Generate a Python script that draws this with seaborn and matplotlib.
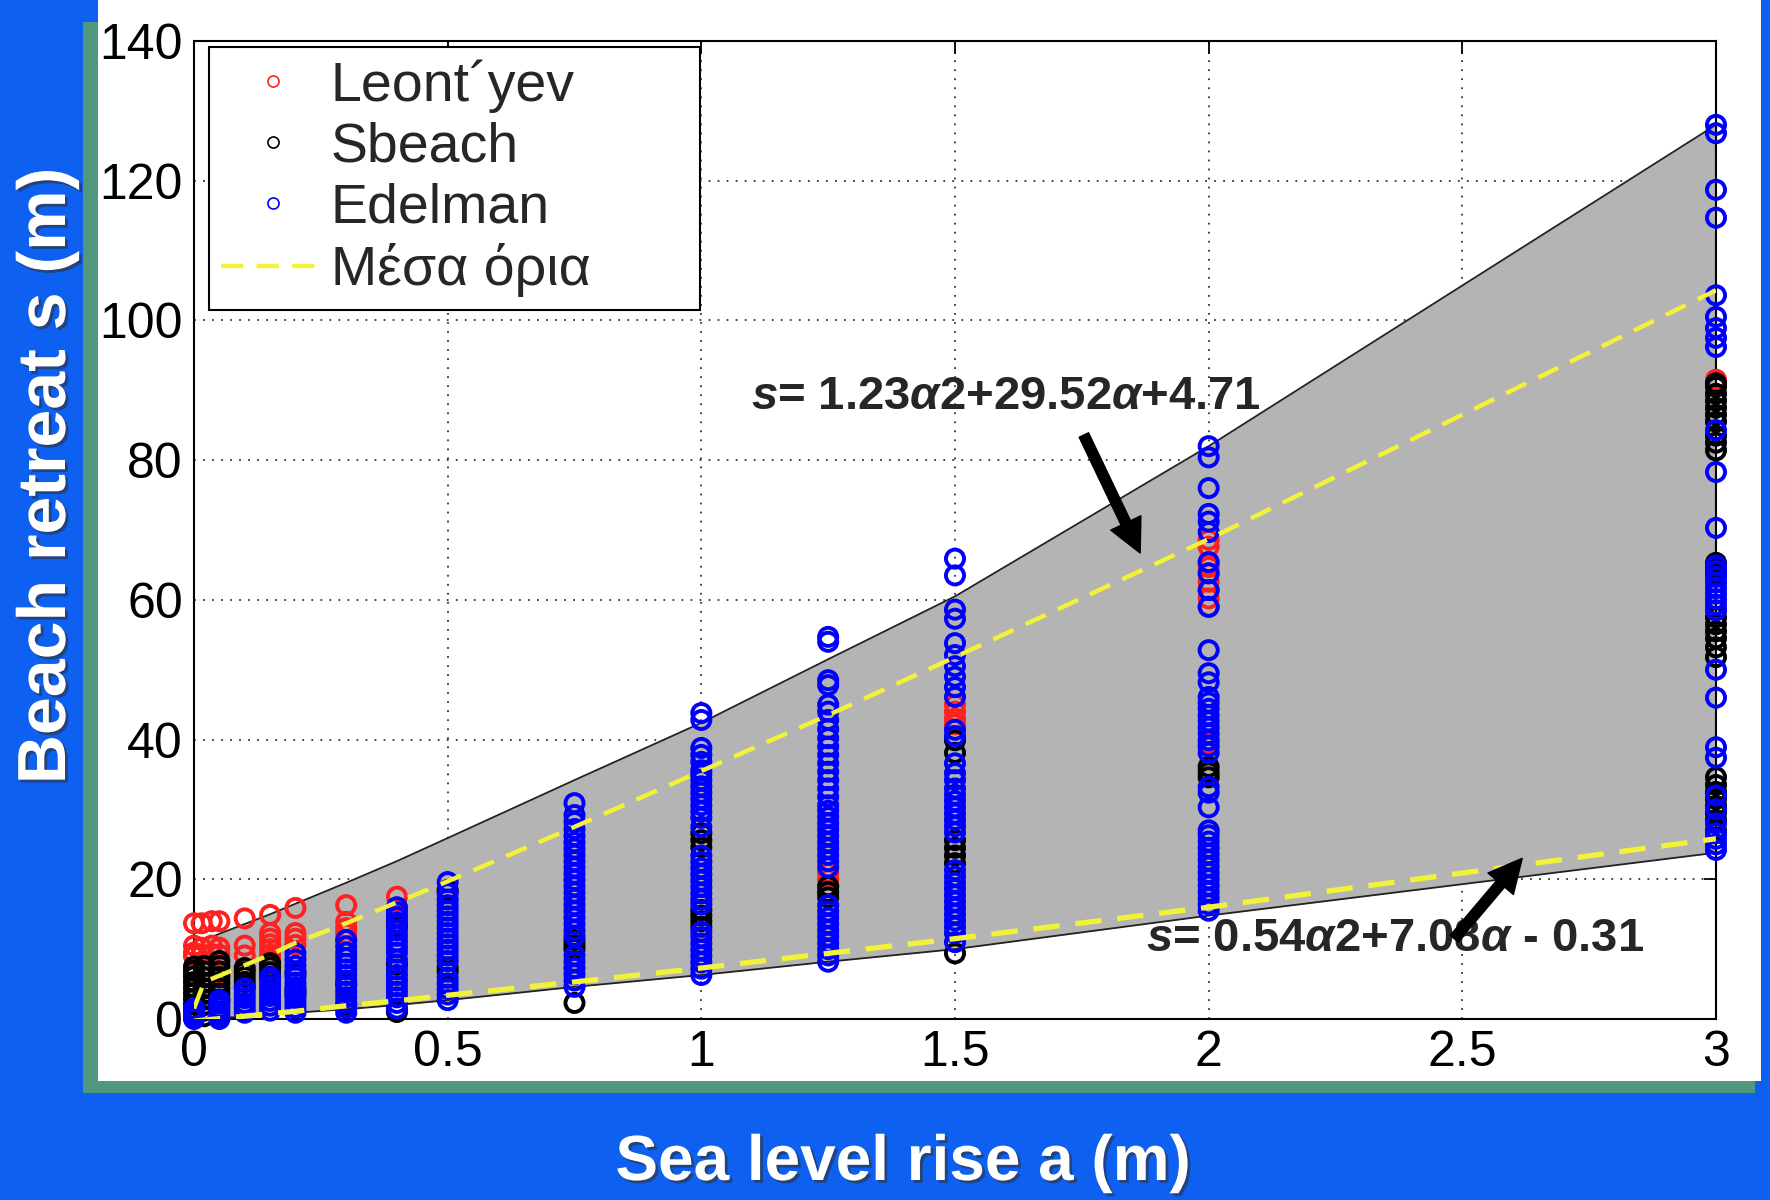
import matplotlib
matplotlib.use("Agg")
import matplotlib.pyplot as plt
import matplotlib.patches as mpatches
import matplotlib.patheffects as pe
from matplotlib.lines import Line2D
import seaborn as sns

# ---------------- data ----------------
leont_x = [0, 0.015, 0.035, 0.05, 0.1, 0.15, 0.2, 0.3, 0.4, 0.5, 1.25, 1.5, 2, 3]
leont_y = [
    [13.7, 10.5, 9.5, 9.0, 6.3],
    [13.7, 10.2, 9.2],
    [14.0, 10.5, 9.3],
    [14.0, 10.2, 9.2, 6.5],
    [14.4, 10.5, 9.1],
    [14.9, 12.3, 11.5, 10.7, 10.0, 9.2, 8.5],
    [15.9, 12.3, 11.5, 10.6],
    [16.3, 13.9, 13.0, 12.2, 11.3],
    [17.5, 15.9, 15.0, 14.2],
    [18.5],
    [20.9, 20.0, 19.0, 18.0],
    [45.0, 44.0, 43.0, 42.2],
    [68.6, 67.6, 65.4, 64.7, 63.8, 62.6, 61.4, 60.2, 59.0, 39.5],
    [91.5, 58.5],
]

sbeach_x = [0, 0.02, 0.05, 0.1, 0.15, 0.2, 0.3, 0.4, 0.5, 0.75, 1, 1.25, 1.5, 2, 3]
sbeach_y = [
    [0.5, 1.3, 2.1, 2.9, 3.7, 4.5, 5.3, 6.1, 6.9, 7.5],
    [0.4, 1.2, 2.0, 2.8, 3.6, 4.4, 5.2, 6.0, 6.8, 7.6],
    [2.8, 3.6, 4.4, 5.2, 6.0, 6.8, 7.6, 8.3],
    [4.6, 5.3, 6.0, 6.7, 7.3],
    [6.0, 6.7, 7.4, 8.0],
    [3.5, 4.2, 6.5],
    [2.0, 5.0],
    [1.0, 1.4, 7.8, 13.3],
    [6.8, 7.4, 18.4],
    [2.3, 10.0, 10.6, 11.3],
    [13.2, 14.0, 14.8, 15.6, 24.6, 25.6, 26.6],
    [17.4, 18.2, 19.0],
    [9.4, 22.3, 23.4, 24.5, 25.6, 38.1, 39.9],
    [34.6, 35.3, 36.1],
    [27.0, 28.5, 29.5, 30.5, 31.5, 32.5, 33.5, 34.6, 51.8, 53.2, 54.5, 55.5,
     56.5, 57.5, 63.7, 64.5, 65.3, 81.4, 82.5, 83.5, 85.5, 86.5, 87.5, 88.5,
     89.5, 90.5, 91.0],
]

edelman_x = [0, 0.05, 0.1, 0.15, 0.2, 0.3, 0.4, 0.5, 0.75, 1, 1.25, 1.5, 2, 3]
edelman_y = [
    [0.0, 0.5, 1.0, 1.5],
    [0.0, 0.5, 1.0, 1.6, 2.2, 2.7],
    [0.9, 1.6, 2.3, 3.0, 3.7, 4.4],
    [1.2, 1.9, 2.6, 3.3, 4.0, 4.7, 5.4, 6.0],
    [0.9, 1.6, 2.3, 3.0, 3.8, 4.5, 5.2, 6.0, 6.8, 7.6, 8.5, 9.4],
    [0.9, 1.6, 2.3, 3.1, 3.9, 4.7, 5.5, 6.3, 7.1, 7.9, 8.7, 9.5, 10.4, 11.3],
    [1.5, 2.3, 3.1, 3.9, 4.7, 5.5, 6.3, 7.1, 8.5, 9.5, 10.3, 11.1, 11.9, 12.7,
     13.8, 14.6, 15.3, 16.0],
    [2.7, 3.5, 4.3, 5.1, 5.9, 8.3, 9.1, 9.9, 10.7, 11.5, 12.3, 13.1, 13.9, 14.7,
     15.5, 16.3, 17.1, 18.0, 19.6],
    [4.6, 5.5, 6.4, 7.3, 8.2, 9.1, 11.9, 12.7, 13.6, 14.5, 15.4, 16.3, 17.2,
     18.1, 19.0, 19.9, 20.8, 21.7, 22.6, 23.5, 24.4, 25.3, 26.2, 27.2, 28.2,
     29.2, 30.9],
    [6.3, 7.2, 8.1, 9.0, 9.9, 10.8, 11.7, 12.5, 16.4, 17.1, 18.0, 18.9, 19.8,
     20.7, 21.6, 22.5, 23.4, 27.5, 28.8, 29.7, 30.6, 31.5, 32.4, 33.3, 34.2,
     35.0, 35.6, 36.8, 37.8, 38.8, 42.8, 43.8],
    [8.2, 9.1, 10.0, 10.9, 11.8, 12.7, 13.6, 14.5, 15.4, 16.3, 21.7, 22.6,
     23.5, 24.4, 25.3, 26.2, 27.1, 28.0, 28.9, 29.8, 30.6, 31.8, 33.0, 34.2,
     35.4, 36.6, 37.8, 39.0, 40.2, 41.5, 42.8, 44.0, 45.0, 47.8, 48.5, 54.0,
     54.7],
    [11.0, 12.3, 13.2, 14.1, 15.0, 15.9, 16.8, 17.7, 18.6, 19.5, 20.4, 21.3,
     26.7, 27.6, 28.5, 29.4, 30.3, 31.2, 32.1, 33.0, 34.2, 35.2, 36.6, 40.5,
     41.4, 46.1, 47.5, 49.0, 50.5, 52.1, 53.8, 57.3, 58.6, 63.5, 65.9],
    [15.5, 16.4, 17.3, 18.2, 19.1, 20.0, 20.9, 21.8, 22.7, 23.6, 24.5, 25.4,
     26.3, 27.0, 30.3, 32.4, 33.2, 38.1, 39.0, 39.9, 40.8, 41.7, 42.6, 43.5,
     44.4, 45.3, 46.1, 48.2, 49.5, 52.8, 59.0, 61.4, 63.8, 65.4, 69.7, 71.2,
     72.3, 76.0, 80.4, 82.0],
    [24.2, 25.0, 25.8, 26.6, 28.0, 30.0, 32.0, 37.4, 38.9, 46.0, 50.0, 58.5,
     59.3, 60.1, 60.9, 61.7, 62.5, 63.3, 64.1, 64.9, 70.3, 78.3, 84.3, 96.2,
     97.5, 98.9, 100.5, 103.6, 114.7, 118.7, 126.8, 128.0],
]

# envelope (grey band) and mean limits ("Μέσα όρια")
band_x = [0, 0.02, 0.05, 0.1, 0.15, 0.2, 0.3, 0.4, 0.5, 0.75, 1, 1.25, 1.5, 2, 3]
band_low = [0.0, 0.1, 0.2, 0.3, 0.6, 0.9, 1.4, 2.0, 2.7, 4.6, 6.3, 8.2, 10.0, 14.8, 23.8]
band_up = [0.8, 11.3, 12.2, 13.6, 15.0, 16.5, 19.5, 22.6, 25.9, 34.2, 42.4, 51.5, 60.5, 82.0, 128.0]
mean_up = [1.5, 5.3, 6.2, 7.7, 9.2, 10.9, 13.7, 16.7, 19.7, 27.5, 35.5, 43.5, 51.8, 68.7, 104.3]
mean_low = [-0.3, -0.15, 0.05, 0.4, 0.77, 1.1, 1.9, 2.6, 3.4, 5.3, 7.3, 9.4, 11.5, 16.0, 25.8]

x_ticks = [0, 0.5, 1, 1.5, 2, 2.5, 3]
x_ticklabels = ["0", "0.5", "1", "1.5", "2", "2.5", "3"]
y_ticks = [0, 20, 40, 60, 80, 100, 120, 140]

legend_labels = ["Leont\u00b4yev", "Sbeach", "Edelman", "Μέσα όρια"]
eq_upper = r"$s$= 1.23$\alpha$2+29.52$\alpha$+4.71"
eq_lower = r"$s$= 0.54$\alpha$2+7.08$\alpha$ - 0.31"
xlabel = "Sea level rise a (m)"
ylabel = "Beach retreat s (m)"

# ---------------- style ----------------
BLUE = "#0e60f0"
GREEN = "#4f977d"
GREY = "#b4b4b4"
YELLOW = "#f2f23a"

sns.set_style("white")
plt.rcParams["font.family"] = ["Liberation Sans", "DejaVu Sans"]
plt.rcParams["mathtext.fontset"] = "custom"
plt.rcParams["mathtext.rm"] = "Liberation Sans:bold"
plt.rcParams["mathtext.it"] = "Liberation Sans:italic:bold"
plt.rcParams["mathtext.bf"] = "Liberation Sans:bold"

W, H = 1770, 1200
fig = plt.figure(figsize=(W / 100, H / 100), dpi=100)
fig.patch.set_facecolor(BLUE)

fig.add_artist(mpatches.Rectangle((98 / W, 1 - 1081 / H), (1761 - 98) / W, 1081 / H,
                                  transform=fig.transFigure, facecolor="white",
                                  edgecolor="none", zorder=-2))
fig.add_artist(mpatches.Rectangle((83 / W, 1 - 1093 / H), 15 / W, (1093 - 22) / H,
                                  transform=fig.transFigure, facecolor=GREEN,
                                  edgecolor="none", zorder=-1))
fig.add_artist(mpatches.Rectangle((83 / W, 1 - 1093 / H), (1755 - 83) / W, 12 / H,
                                  transform=fig.transFigure, facecolor=GREEN,
                                  edgecolor="none", zorder=-1))

ax = fig.add_axes([194 / W, 1 - 1019 / H, (1716 - 194) / W, 978 / H])
ax.set_facecolor("white")

# grey band
ax.fill_between(band_x, band_low, band_up, color=GREY, lw=0, zorder=1)
sns.lineplot(x=band_x, y=band_up, ax=ax, color="#222222", lw=1.3, zorder=2, sort=False)
sns.lineplot(x=band_x, y=band_low, ax=ax, color="#222222", lw=1.3, zorder=2, sort=False)


def flat(xs, ys):
    fx, fy = [], []
    for xv, col in zip(xs, ys):
        for yv in col:
            fx.append(xv)
            fy.append(yv)
    return fx, fy


for xs, ys, col in [(leont_x, leont_y, "#ff2020"),
                    (sbeach_x, sbeach_y, "black"),
                    (edelman_x, edelman_y, "#0000ff")]:
    fx, fy = flat(xs, ys)
    sns.scatterplot(x=fx, y=fy, ax=ax, marker="o", s=170, facecolor="none",
                    edgecolor=col, linewidth=2.8, zorder=3, clip_on=False,
                    legend=False)

dash = (0, (5, 3))
sns.lineplot(x=band_x, y=mean_up, ax=ax, color=YELLOW, lw=3.2, linestyle=dash,
             zorder=4, sort=False)
sns.lineplot(x=band_x, y=mean_low, ax=ax, color=YELLOW, lw=3.8, linestyle=dash,
             zorder=4, sort=False)

ax.set_xlim(0, 3)
ax.set_ylim(0, 140)
ax.set_xticks(x_ticks)
ax.set_xticklabels(x_ticklabels)
ax.set_yticks(y_ticks)
ax.set_axisbelow(True)
ax.grid(True, color="#333333", linestyle=(0, (1, 4)), lw=1.3)
ax.tick_params(direction="in", length=9, width=1.3, top=True, right=True,
               labelsize=36, pad=8, colors="black")
for sp in ax.spines.values():
    sp.set_visible(True)
    sp.set_color("black")
    sp.set_linewidth(1.5)

# equations and arrows
ax.text(1.098, 89.0, eq_upper, fontsize=34, fontweight="bold", ha="left", va="center", zorder=6)
ax.text(1.877, 11.5, eq_lower, fontsize=34, fontweight="bold", ha="left", va="center", zorder=6)
arrow_style = "simple,head_length=0.8,head_width=0.8,tail_width=0.25"
ax.annotate("", xy=(1.865, 66.7), xytext=(1.754, 83.6),
            arrowprops=dict(arrowstyle=arrow_style, mutation_scale=30, fc="black",
                            ec="black", shrinkA=0, shrinkB=0), zorder=6)
ax.annotate("", xy=(2.618, 23.0), xytext=(2.484, 11.5),
            arrowprops=dict(arrowstyle=arrow_style, mutation_scale=30, fc="black",
                            ec="black", shrinkA=0, shrinkB=0), zorder=6)

# legend
handles = [
    Line2D([], [], marker="o", ls="none", mfc="none", mec="#ff2020", ms=8, mew=1.2),
    Line2D([], [], marker="o", ls="none", mfc="none", mec="black", ms=8, mew=1.2),
    Line2D([], [], marker="o", ls="none", mfc="none", mec="#0000ff", ms=8, mew=1.2),
    Line2D([], [], color=YELLOW, lw=3.2, linestyle=dash),
]
leg_x0 = (209 - 194) / 1522
leg_w = (700 - 209) / 1522
leg_top = (1019 - 47) / 978
leg_h = 255 / 978
leg = ax.legend(handles, legend_labels, loc="upper left",
                bbox_to_anchor=(leg_x0, leg_top - leg_h, leg_w, leg_h),
                mode="expand", borderaxespad=0,
                fontsize=40, frameon=True, fancybox=False, edgecolor="black",
                framealpha=1, handlelength=1.85, handletextpad=0.12,
                labelspacing=0.16, borderpad=0.22)
leg.get_frame().set_linewidth(1.5)
leg.set_zorder(10)

shadow = [pe.withSimplePatchShadow(offset=(2, -2), shadow_rgbFace="#303030", alpha=0.6)]
ax.set_xlabel(xlabel, fontsize=46, fontweight="bold", color="white", va="center",
              path_effects=shadow)
ax.xaxis.set_label_coords((903 - 194) / 1522, (1019 - 1163) / 978)
ax.set_ylabel(ylabel, fontsize=49, fontweight="bold", color="white", va="center",
              path_effects=shadow)
ax.yaxis.set_label_coords((47 - 194) / 1522, (1019 - 476) / 978)

fig.savefig("out.png", dpi=100, facecolor=fig.get_facecolor())
